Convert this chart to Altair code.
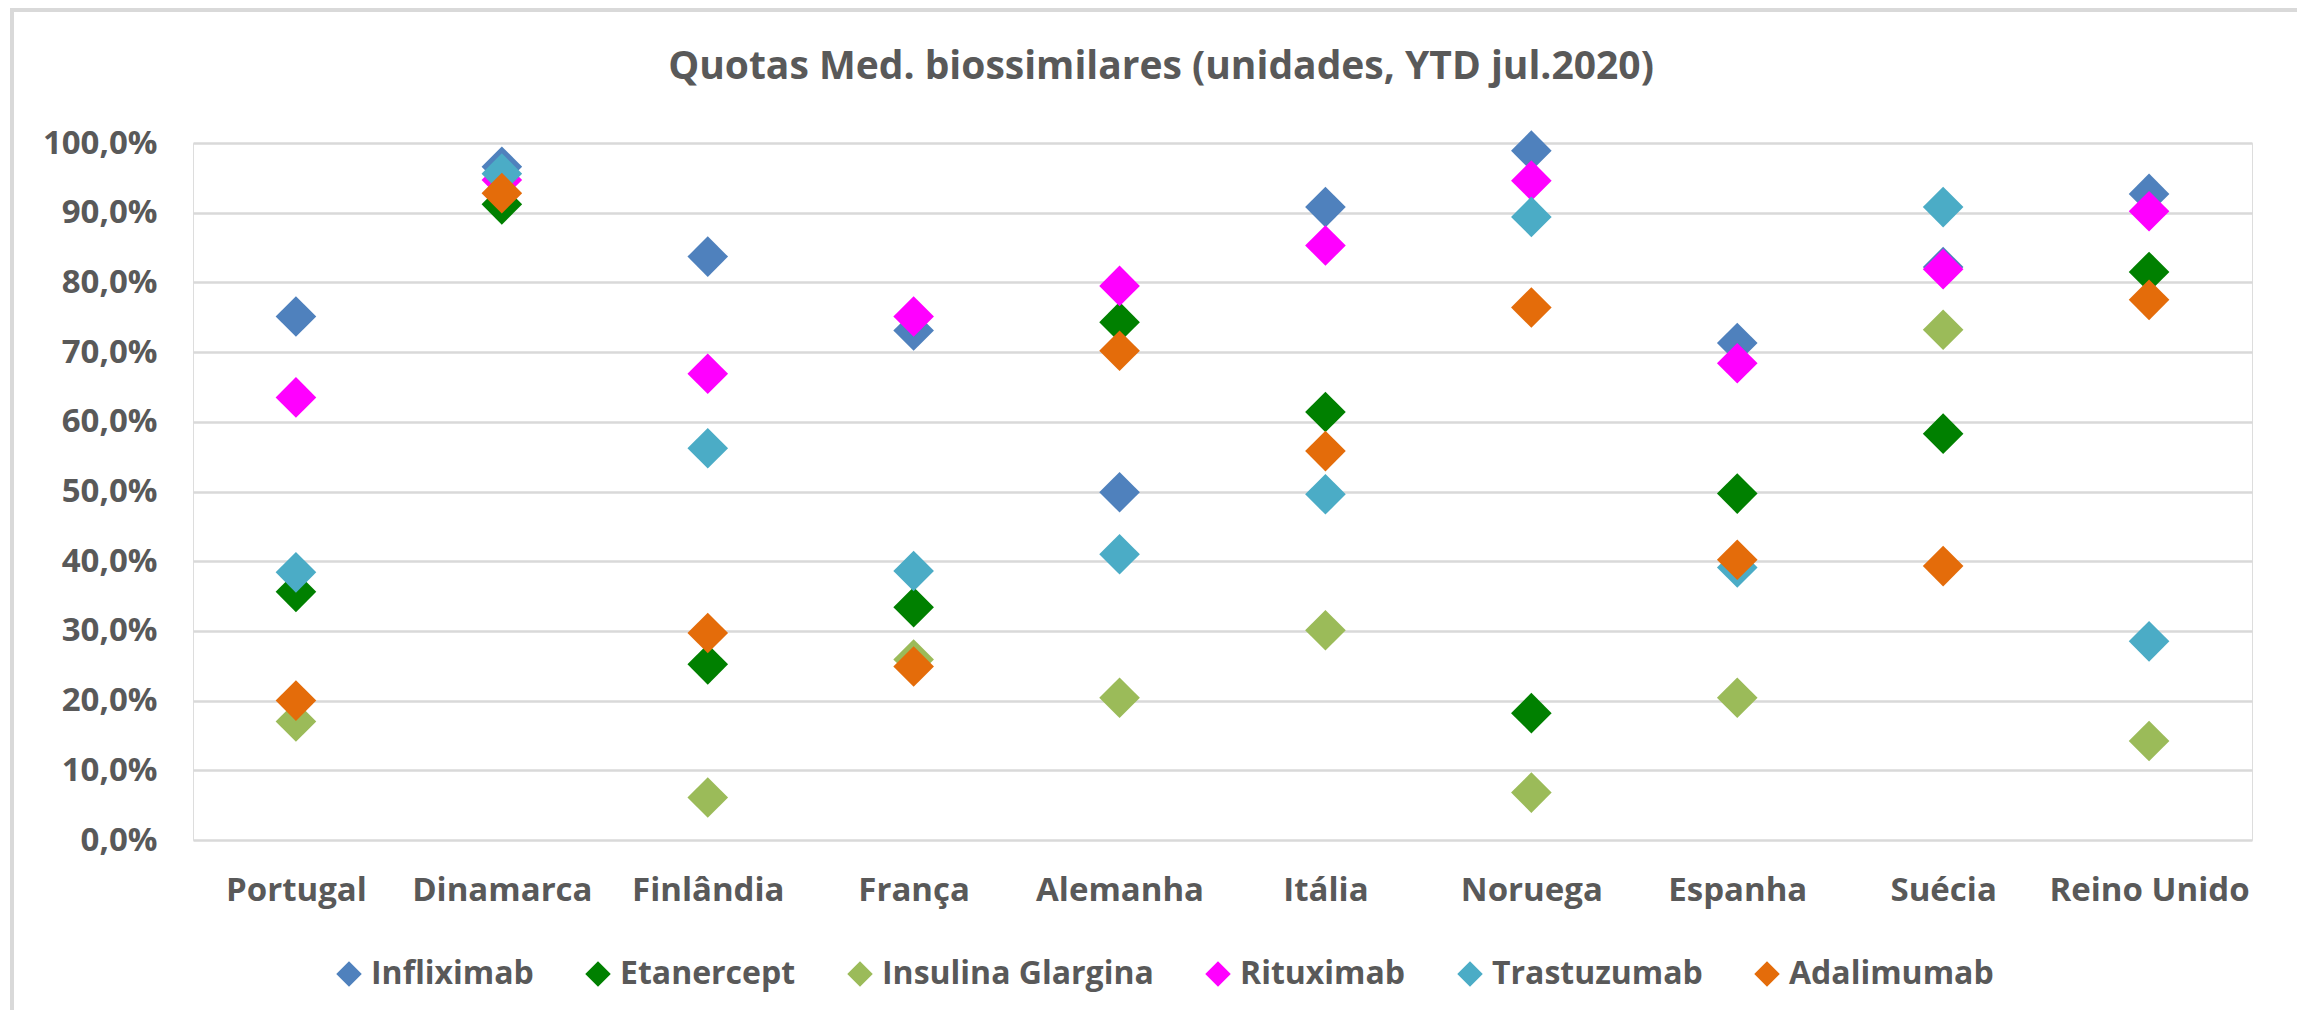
import altair as alt
import pandas as pd

countries = ["Portugal", "Dinamarca", "Finlândia", "França", "Alemanha",
             "Itália", "Noruega", "Espanha", "Suécia", "Reino Unido"]
series_names = ["Infliximab", "Etanercept", "Insulina Glargina",
                "Rituximab", "Trastuzumab", "Adalimumab"]
series_colors = ["#4F81BD", "#008000", "#9BBB59", "#FF00FF", "#4BACC6", "#E46C0A"]
title_text = "Quotas Med. biossimilares (unidades, YTD jul.2020)"

infliximab = [75.1, 96.6, 83.7, 73.1, 49.9, 90.8, 98.9, 71.3, 82.2, 92.7]
etanercept = [35.6, 91.2, 25.2, 33.4, 74.3, 61.4, 18.2, 49.7, 58.3, 81.5]
insulina_glargina = [17.0, None, 6.1, 25.9, 20.4, 30.1, 6.8, 20.4, 73.2, 14.2]
rituximab = [63.5, 94.7, 66.9, 75.1, 79.5, 85.3, 94.6, 68.4, 81.9, 90.2]
trastuzumab = [38.4, 95.6, 56.2, 38.6, 41.0, 49.6, 89.4, 39.1, 90.8, 28.5]
adalimumab = [20.0, 92.8, 29.7, 24.9, 70.2, 55.8, 76.4, 40.2, 39.3, 77.5]

series_values = [infliximab, etanercept, insulina_glargina,
                 rituximab, trastuzumab, adalimumab]

rows = []
for si, (name, vals) in enumerate(zip(series_names, series_values)):
    for c, v in zip(countries, vals):
        if v is None:
            continue
        rows.append({"pais": c, "serie": name, "quota": v / 100.0, "ord": si})
df = pd.DataFrame(rows)

FONT = "Open Sans"
GREY = "#595959"

points = alt.Chart(df).mark_point(
    shape="diamond", filled=True, size=1650, opacity=1, strokeWidth=0
).encode(
    x=alt.X("pais:N", sort=countries,
            scale=alt.Scale(type="point", padding=0.5),
            axis=alt.Axis(title=None, labelAngle=0, ticks=False, domain=False,
                          grid=False, labelFont=FONT, labelFontSize=33,
                          labelFontWeight="bold", labelColor=GREY,
                          labelPadding=34, labelLimit=0)),
    y=alt.Y("quota:Q", scale=alt.Scale(domain=[0, 1], nice=False),
            axis=alt.Axis(title=None, values=[i / 10 for i in range(11)],
                          labelExpr="replace(format(datum.value, '.1%'), '.', ',')",
                          ticks=False, domain=False, grid=True,
                          gridColor="#D9D9D9", gridWidth=2.5,
                          labelFont=FONT, labelFontSize=33,
                          labelFontWeight="bold", labelColor=GREY,
                          labelPadding=36, labelLimit=0)),
    color=alt.Color("serie:N", sort=series_names,
                    scale=alt.Scale(domain=series_names, range=series_colors),
                    legend=alt.Legend(title=None, orient="none",
                                      direction="horizontal",
                                      legendX=140, legendY=815,
                                      symbolType="diamond", symbolSize=650,
                                      symbolStrokeWidth=0,
                                      labelFont=FONT, labelFontSize=32,
                                      labelFontWeight="bold", labelColor=GREY,
                                      labelOffset=6, columnPadding=48,
                                      labelLimit=0)),
    order=alt.Order("ord:Q"),
)

border = alt.Chart(alt.Data(values=[{"b": 1}])).mark_rect(
    fill=None, stroke="#D9D9D9", strokeWidth=4
).encode(
    x=alt.value(-181), x2=alt.value(2114),
    y=alt.value(-133), y2=alt.value(920),
)

title = alt.Chart(alt.Data(values=[{"t": title_text}])).mark_text(
    font=FONT, fontSize=39, fontWeight="bold", color=GREY,
    align="center", baseline="alphabetic",
).encode(
    text="t:N", x=alt.value(968), y=alt.value(-64),
)

chart = alt.layer(border, points, title).properties(
    width=2059, height=697,
    autosize=alt.AutoSizeParams(type="none"),
    padding={"left": 185, "top": 135, "right": 45, "bottom": 170},
).configure_view(stroke=None).configure(background="white")

chart.save("out.html", embed_options={"renderer": "svg", "actions": False})
